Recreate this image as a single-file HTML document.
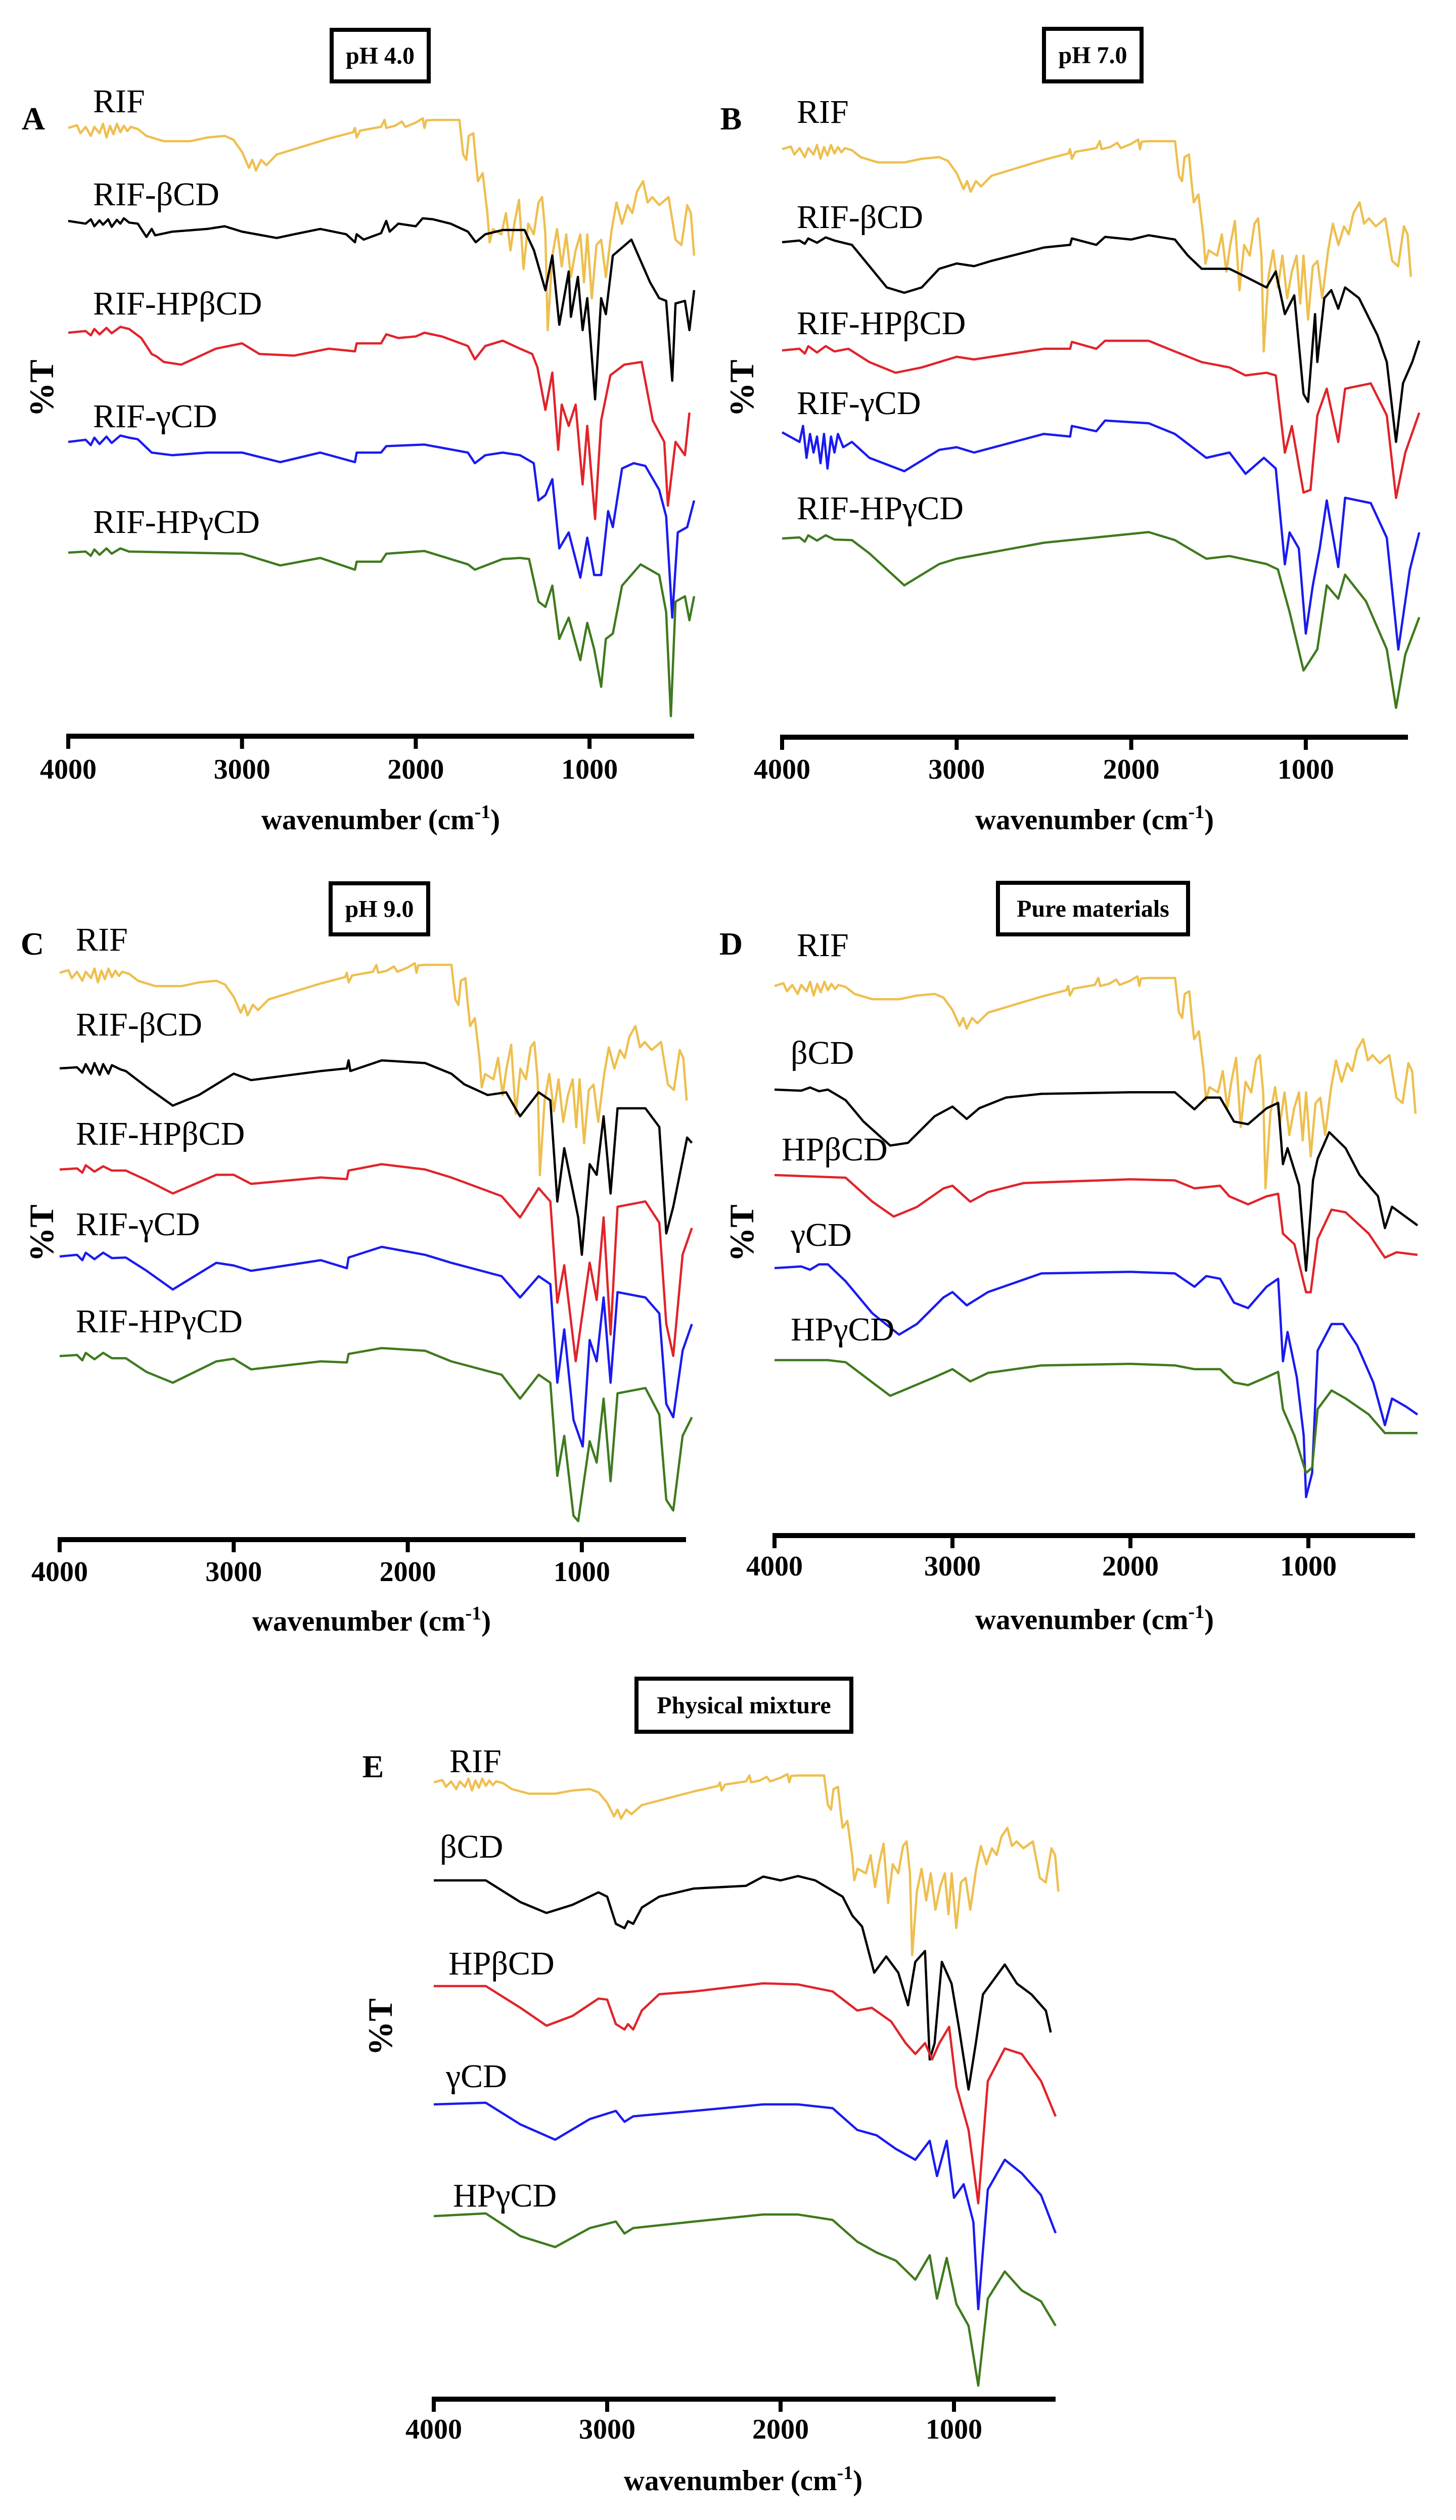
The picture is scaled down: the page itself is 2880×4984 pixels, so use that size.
<!DOCTYPE html>
<html><head><meta charset="utf-8">
<style>
html,body{margin:0;padding:0;background:#fff;}
svg{display:block;}
text{font-family:"Liberation Serif",serif;fill:#000;}
</style></head>
<body>
<svg id="fig" width="2880" height="4984" viewBox="0 0 2880 4984" xmlns="http://www.w3.org/2000/svg"></svg>
<script>
// ---- Data: [wavenumber cm-1, reading] pairs; reading = vertical position (larger = lower %T)
const rif = [[4000,240],[3950,235],[3930,250],[3900,238],[3870,255],[3850,238],[3820,250],[3800,232],[3780,258],[3760,236],[3740,252],[3720,232],[3700,248],[3680,236],[3660,246],[3640,238],[3600,242],[3550,255],[3450,265],[3300,265],[3200,258],[3100,255],[3050,262],[3000,285],[2960,315],[2940,300],[2920,320],[2890,300],[2860,310],[2800,290],[2700,280],[2500,260],[2360,248],[2350,240],[2340,258],[2320,245],[2200,238],[2180,225],[2170,240],[2120,236],[2080,228],[2060,238],[2000,230],[1960,222],[1950,240],[1940,226],[1900,225],[1760,225],[1749,225],[1727,290],[1709,300],[1695,255],[1669,250],[1655,300],[1642,340],[1615,325],[1588,400],[1575,455],[1556,430],[1508,440],[1481,400],[1455,470],[1433,420],[1406,375],[1380,505],[1353,420],[1321,440],[1294,380],[1273,370],[1254,440],[1241,620],[1214,480],[1187,430],[1160,500],[1134,440],[1107,520],[1080,470],[1053,440],[1032,530],[1013,440],[987,560],[960,460],[933,450],[906,520],[872,430],[845,380],[813,420],[781,385],[754,400],[727,360],[692,340],[666,380],[639,370],[599,385],[545,370],[505,450],[471,460],[438,385],[417,400],[398,480]];

const aBeta = [[4000,415],[3900,420],[3870,412],[3850,425],[3820,414],[3800,422],[3770,412],[3750,426],[3720,413],[3700,420],[3680,410],[3650,418],[3600,420],[3550,445],[3520,430],[3500,442],[3400,435],[3200,430],[3100,425],[3000,435],[2800,447],[2700,440],[2550,430],[2400,440],[2350,455],[2340,440],[2300,450],[2200,438],[2170,415],[2150,435],[2100,420],[2000,425],[1960,410],[1900,412],[1800,420],[1700,435],[1655,455],[1600,440],[1500,432],[1374,432],[1320,470],[1254,545],[1214,480],[1174,610],[1120,510],[1107,595],[1067,520],[1040,620],[1013,560],[968,750],[933,560],[906,590],[866,480],[759,450],[652,530],[599,560],[559,565],[524,715],[505,570],[451,565],[425,620],[398,545]];
const aHPBeta = [[4000,625],[3900,622],[3870,630],[3850,618],[3820,628],[3780,616],[3750,626],[3700,614],[3650,618],[3580,635],[3520,665],[3490,670],[3450,680],[3350,685],[3150,655],[3000,645],[2900,665],[2700,668],[2500,655],[2350,660],[2340,645],[2200,645],[2170,628],[2100,635],[2000,632],[1950,625],[1850,632],[1700,650],[1660,675],[1600,650],[1500,640],[1400,655],[1330,665],[1300,690],[1254,770],[1214,700],[1180,845],[1160,760],[1120,800],[1080,760],[1040,910],[1013,800],[968,975],[933,790],[880,705],[800,685],[700,680],[636,790],[570,830],[549,950],[505,830],[451,855],[425,775]];
const aGamma = [[4000,830],[3900,826],[3870,836],[3850,822],[3820,834],[3780,820],[3750,832],[3700,818],[3650,822],[3600,825],[3520,850],[3400,855],[3200,850],[3000,850],[2780,868],[2550,850],[2350,868],[2340,850],[2200,850],[2170,838],[1950,835],[1700,850],[1660,870],[1600,855],[1500,850],[1400,855],[1321,870],[1294,940],[1254,930],[1214,900],[1174,1030],[1120,1000],[1053,1085],[1013,1010],[973,1080],[933,1080],[893,960],[866,990],[813,880],[746,870],[679,875],[599,920],[559,970],[524,1160],[492,1000],[438,990],[398,940]];
const aHPGamma = [[4000,1038],[3900,1036],[3870,1044],[3850,1032],[3820,1042],[3780,1030],[3750,1040],[3700,1030],[3650,1036],[3000,1040],[2780,1062],[2550,1048],[2350,1070],[2340,1055],[2200,1055],[2170,1040],[1950,1035],[1700,1060],[1660,1070],[1500,1050],[1400,1048],[1348,1050],[1294,1130],[1254,1140],[1214,1100],[1174,1200],[1120,1160],[1053,1240],[1013,1170],[973,1220],[933,1290],[906,1200],[866,1190],[813,1100],[706,1060],[599,1080],[559,1150],[532,1345],[505,1130],[451,1120],[425,1165],[398,1120]];

const bBeta = [[4000,455],[3900,452],[3870,458],[3850,448],[3800,456],[3750,446],[3700,452],[3600,460],[3500,500],[3400,540],[3300,550],[3200,540],[3100,505],[3000,495],[2900,500],[2800,490],[2500,465],[2350,460],[2340,448],[2200,460],[2150,445],[2000,450],[1900,442],[1750,450],[1676,480],[1596,505],[1437,505],[1345,520],[1225,540],[1172,510],[1120,590],[1066,555],[1013,740],[987,755],[947,590],[934,680],[894,560],[854,545],[814,580],[775,540],[695,560],[589,630],[536,680],[483,830],[443,720],[390,680],[350,640]];
const bHPBeta = [[4000,658],[3900,655],[3870,664],[3850,650],[3800,662],[3750,650],[3700,660],[3620,655],[3500,680],[3350,700],[3200,690],[3000,670],[2900,675],[2500,655],[2350,655],[2340,642],[2200,655],[2150,640],[1900,640],[1750,660],[1596,680],[1437,690],[1345,705],[1225,700],[1172,705],[1120,850],[1080,800],[1013,925],[973,920],[934,780],[880,730],[814,830],[775,730],[628,720],[536,780],[483,935],[430,850],[350,775]];
const bGamma = [[4000,812],[3900,830],[3880,800],[3860,860],[3840,815],[3820,850],[3800,820],[3780,870],[3760,815],[3740,880],[3720,820],[3700,850],[3680,815],[3650,840],[3600,830],[3500,860],[3300,885],[3100,845],[3000,840],[2900,850],[2500,815],[2350,820],[2340,800],[2200,810],[2150,790],[1900,795],[1750,815],[1570,860],[1437,850],[1345,890],[1240,860],[1172,880],[1120,1060],[1093,1000],[1040,1030],[1000,1190],[960,1100],[920,1030],[880,940],[814,1065],[775,935],[628,945],[536,1010],[470,1220],[404,1070],[350,1000]];
const bHPGamma = [[4000,1012],[3900,1010],[3870,1018],[3850,1006],[3800,1016],[3750,1006],[3700,1014],[3600,1015],[3500,1040],[3300,1100],[3100,1060],[3000,1050],[2500,1020],[2200,1010],[1900,1000],[1750,1015],[1570,1050],[1437,1045],[1225,1060],[1160,1070],[1093,1150],[1013,1260],[973,1240],[934,1220],[880,1100],[814,1125],[775,1080],[655,1130],[536,1220],[483,1330],[430,1230],[350,1160]];

const cBeta = [[4000,440],[3900,438],[3870,448],[3850,432],[3820,450],[3800,430],[3770,452],[3750,432],[3720,450],[3700,434],[3650,442],[3620,445],[3500,475],[3350,510],[3200,490],[3000,450],[2900,462],[2500,445],[2350,440],[2340,425],[2330,445],[2150,425],[1900,430],[1750,450],[1675,470],[1541,490],[1435,485],[1355,530],[1248,485],[1181,500],[1141,690],[1101,590],[1021,720],[1000,790],[955,620],[915,640],[875,530],[835,675],[795,515],[635,515],[555,550],[515,750],[475,700],[395,570],[368,580]];
const cHPBeta = [[4000,630],[3900,628],[3870,636],[3850,622],[3800,634],[3750,624],[3700,632],[3620,632],[3500,650],[3350,675],[3100,640],[3000,640],[2900,657],[2500,645],[2350,648],[2340,632],[2150,620],[1900,630],[1750,645],[1461,680],[1355,720],[1248,665],[1181,690],[1141,880],[1101,810],[1035,990],[955,805],[915,875],[875,720],[835,940],[795,700],[635,690],[555,730],[515,920],[475,980],[421,790],[368,740]];
const cGamma = [[4000,793],[3900,790],[3870,800],[3850,786],[3800,798],[3750,786],[3700,796],[3620,795],[3500,820],[3350,855],[3100,805],[3000,810],[2900,820],[2500,800],[2350,815],[2340,795],[2150,775],[1900,790],[1750,805],[1461,830],[1355,870],[1248,830],[1181,845],[1141,1030],[1101,930],[1048,1100],[995,1150],[955,950],[915,990],[875,870],[835,1030],[795,860],[635,870],[555,900],[515,1070],[475,1095],[421,970],[368,920]];
const cHPGamma = [[4000,980],[3900,978],[3870,988],[3850,974],[3800,986],[3750,974],[3700,984],[3620,984],[3500,1010],[3350,1030],[3100,990],[3000,985],[2900,1005],[2500,990],[2350,992],[2340,976],[2150,965],[1900,970],[1750,990],[1461,1015],[1355,1060],[1248,1015],[1181,1030],[1141,1205],[1101,1130],[1048,1280],[1021,1290],[955,1140],[915,1180],[875,1060],[835,1215],[795,1050],[635,1040],[555,1090],[515,1250],[475,1270],[421,1130],[368,1095]];

const dBeta = [[4000,480],[3850,482],[3800,476],[3750,483],[3700,480],[3600,500],[3500,540],[3350,585],[3250,580],[3100,530],[3000,512],[2920,535],[2850,515],[2700,495],[2500,488],[2000,485],[1750,485],[1640,517],[1574,495],[1496,495],[1418,540],[1339,545],[1235,515],[1170,505],[1143,620],[1117,590],[1052,660],[1013,820],[974,650],[948,610],[883,560],[791,590],[713,640],[609,680],[570,740],[530,700],[387,735]];
const dHPBeta = [[4000,640],[3600,645],[3450,690],[3330,718],[3200,700],[3050,665],[3000,660],[2900,690],[2800,672],[2600,655],[2000,648],[1750,650],[1640,665],[1496,660],[1444,680],[1339,695],[1235,680],[1170,675],[1143,750],[1078,770],[1013,860],[987,860],[948,760],[870,705],[791,710],[661,750],[570,795],[504,785],[387,790]];
const dGamma = [[4000,815],[3850,812],[3800,818],[3750,808],[3700,808],[3600,840],[3450,900],[3300,940],[3200,920],[3050,870],[3000,860],[2920,885],[2800,860],[2500,825],[2000,822],[1750,825],[1640,850],[1574,830],[1496,835],[1418,880],[1339,890],[1235,850],[1170,835],[1143,990],[1117,935],[1065,1020],[1026,1130],[1013,1245],[979,1200],[948,970],[870,920],[805,920],[726,960],[635,1030],[570,1110],[530,1060],[452,1075],[387,1090]];
const dHPGamma = [[4000,988],[3700,988],[3600,992],[3450,1030],[3350,1055],[3100,1020],[3000,1005],[2900,1028],[2800,1012],[2500,998],[2000,995],[1750,998],[1640,1005],[1496,1005],[1418,1030],[1339,1035],[1235,1020],[1170,1010],[1143,1080],[1078,1130],[1013,1200],[979,1190],[948,1080],[870,1045],[791,1060],[661,1090],[570,1125],[387,1125]];

const eBeta = [[4000,390],[3700,390],[3650,400],[3500,430],[3350,450],[3200,435],[3050,412],[3000,420],[2950,470],[2900,478],[2880,465],[2850,470],[2800,440],[2700,420],[2500,405],[2200,400],[2100,383],[2000,390],[1900,382],[1800,390],[1642,420],[1586,455],[1530,475],[1460,560],[1391,530],[1321,560],[1265,620],[1223,540],[1167,520],[1140,720],[1112,690],[1070,540],[1014,580],[972,660],[916,775],[874,690],[833,600],[707,545],[637,580],[553,600],[470,630],[442,670]];
const eHPBeta = [[4000,585],[3700,585],[3650,595],[3500,625],[3350,658],[3200,640],[3050,608],[3000,610],[2950,655],[2900,665],[2880,655],[2850,665],[2800,630],[2700,600],[2500,595],[2100,580],[1900,582],[1700,595],[1558,630],[1474,625],[1363,650],[1279,690],[1223,710],[1167,690],[1126,720],[1084,690],[1028,660],[986,770],[916,850],[860,985],[805,760],[707,700],[609,710],[498,760],[414,825]];
const eGamma = [[4000,803],[3700,800],[3500,840],[3300,868],[3100,830],[2950,815],[2900,835],[2850,825],[2500,815],[2100,803],[1900,803],[1700,810],[1558,850],[1446,860],[1335,885],[1223,905],[1140,870],[1098,935],[1042,870],[1000,975],[944,950],[888,1020],[860,1180],[805,960],[707,905],[609,930],[498,970],[414,1040]];
const eHPGamma = [[4000,1008],[3700,1003],[3500,1045],[3300,1065],[3100,1030],[2950,1018],[2900,1040],[2850,1030],[2500,1018],[2100,1005],[1900,1005],[1700,1015],[1558,1055],[1446,1075],[1335,1090],[1223,1125],[1140,1080],[1098,1160],[1042,1085],[986,1170],[916,1210],[860,1320],[805,1160],[707,1110],[609,1145],[498,1165],[414,1210]];

const tickValues = [4000, 3000, 2000, 1000];
const tickLabels = ["4000", "3000", "2000", "1000"];
const seriesColors = ["#eebf4f", "#000000", "#e0242a", "#1a1af0", "#3f7a1e"];
const labelsComplex = ["RIF", "RIF-βCD", "RIF-HPβCD", "RIF-γCD", "RIF-HPγCD"];
const labelsPure = ["RIF", "βCD", "HPβCD", "γCD", "HPγCD"];

// ---- Layout
const panels = [
 {id:"a", letter:"A", title:"pH 4.0", x4000:135, perK:343.7, axisY:1456, axisEnd:1373, k:1.053, base:[253,437,658,874,1093], lx:[184,184,184,184,184], ly:[200,384,600,823,1032], box:[652,55,200,110], tickY:1521, titleX:753, titleY:1621, letterXY:[66,234], pctXY:[83,768], labels:labelsComplex, series:[rif,aBeta,aHPBeta,aGamma,aHPGamma]},
 {id:"b", letter:"B", title:"pH 7.0", x4000:1547, perK:345.3, axisY:1458, axisEnd:2785, k:1.053, base:[295,479,693,855,1065], lx:[1576,1576,1576,1576,1576], ly:[221,429,639,797,1005], box:[2061,53,201,112], tickY:1521, titleX:2165, titleY:1621, letterXY:[1446,234], pctXY:[1468,768], labels:labelsComplex, series:[rif,bBeta,bHPBeta,bGamma,bHPGamma]},
 {id:"c", letter:"C", title:"pH 9.0", x4000:118, perK:344.3, axisY:3045, axisEnd:1357, k:1.053, base:[1924,2113,2313,2485,2682], lx:[150,150,150,150,150], ly:[1858,2026,2242,2421,2613], box:[650,1743,201,109], tickY:3108, titleX:735, titleY:3206, letterXY:[64,1866], pctXY:[83,2439], labels:labelsComplex, series:[rif,cBeta,cHPBeta,cGamma,cHPGamma]},
 {id:"d", letter:"D", title:"Pure materials", x4000:1532, perK:352, axisY:3037, axisEnd:2799, k:1.053, base:[1950,2155,2324,2508,2690], lx:[1576,1564,1546,1564,1564], ly:[1869,2082,2273,2442,2629], box:[1970,1742,384,110], tickY:3097, titleX:2165, titleY:3203, letterXY:[1446,1866], pctXY:[1468,2439], labels:labelsPure, series:[rif,dBeta,dHPBeta,dGamma,dHPGamma]},
 {id:"e", letter:"E", title:"Physical mixture", x4000:858, perK:343, axisY:4745, axisEnd:2088, k:1.074, rifK:0.9, base:[3525,3719,3928,4162,4383], lx:[889,870,887,882,896], ly:[3483,3652,3883,4106,4342], box:[1255,3316,433,113], tickY:4804, titleX:1470, titleY:4906, letterXY:[738,3493], pctXY:[753,4009], labels:labelsPure, series:[rif,eBeta,eHPBeta,eGamma,eHPGamma]}
];

const NS = "http://www.w3.org/2000/svg";
const svg = document.getElementById("fig");
function mk(tag, parent){ const e=document.createElementNS(NS,tag); parent.appendChild(e); return e; }

panels.forEach(p=>{
  const g = mk("g", svg);
  
  
  const xs = wn => p.x4000 + (4000 - wn) * p.perK / 1000;

  const bx = mk("rect", g);
  
  
  bx.setAttribute("x", p.box[0]+4); bx.setAttribute("y", p.box[1]+4);
  bx.setAttribute("width", p.box[2]-8); bx.setAttribute("height", p.box[3]-8);
  bx.setAttribute("fill","none"); bx.setAttribute("stroke","#000"); bx.setAttribute("stroke-width","8");
  const bt = mk("text", g);
  
  
  bt.setAttribute("x", p.box[0]+p.box[2]/2); bt.setAttribute("y", p.box[1]+p.box[3]/2+16);
  bt.setAttribute("text-anchor","middle"); bt.setAttribute("font-size","48"); bt.setAttribute("font-weight","bold");
  bt.textContent = p.title;

  const lt = mk("text", g);
  
  
  lt.setAttribute("x", p.letterXY[0]); lt.setAttribute("y", p.letterXY[1]+22);
  lt.setAttribute("text-anchor","middle"); lt.setAttribute("font-size","64"); lt.setAttribute("font-weight","bold");
  lt.textContent = p.letter;

  const yt = mk("text", g);
  
  
  yt.setAttribute("transform", "translate(" + (p.pctXY[0]+22) + "," + p.pctXY[1] + ") rotate(-90)");
  yt.setAttribute("text-anchor","middle"); yt.setAttribute("font-size","68"); yt.setAttribute("font-weight","bold");
  yt.textContent = "%T";

  p.series.forEach((s, i)=>{
    const kk = (i===0 && p.rifK) ? p.rifK : p.k;
    const v0 = s[0][1];
    let d = "";
    s.forEach((pt, j)=>{
      const x = xs(pt[0]);
      const y = p.base[i] + (pt[1]-v0)*kk;
      d += (j? "L":"M") + x.toFixed(1) + "," + y.toFixed(1);
    });
    const path = mk("path", g);
    
    
    path.setAttribute("d", d);
    path.setAttribute("fill","none"); path.setAttribute("stroke", seriesColors[i]);
    path.setAttribute("stroke-width","4.5"); path.setAttribute("stroke-linejoin","round");
    const lab = mk("text", g);
    
    
    lab.setAttribute("x", p.lx[i]); lab.setAttribute("y", p.ly[i]+22);
    lab.setAttribute("font-size","66");
    lab.textContent = p.labels[i];
  });

  const ax = mk("line", g);
  
  
  ax.setAttribute("x1", p.x4000-4); ax.setAttribute("x2", p.axisEnd);
  ax.setAttribute("y1", p.axisY); ax.setAttribute("y2", p.axisY);
  ax.setAttribute("stroke","#000"); ax.setAttribute("stroke-width","10");
  tickValues.forEach((tv, i)=>{
    const tk = mk("line", g);
    
    
    tk.setAttribute("x1", xs(tv)); tk.setAttribute("x2", xs(tv));
    tk.setAttribute("y1", p.axisY); tk.setAttribute("y2", p.axisY+25);
    tk.setAttribute("stroke","#000"); tk.setAttribute("stroke-width","8");
    const tl = mk("text", g);
    
    
    tl.setAttribute("x", xs(tv)); tl.setAttribute("y", p.tickY+19);
    tl.setAttribute("text-anchor","middle"); tl.setAttribute("font-size","56"); tl.setAttribute("font-weight","bold");
    tl.textContent = tickLabels[i];
  });
  const xt = mk("text", g);
  
  
  xt.setAttribute("x", p.titleX); xt.setAttribute("y", p.titleY+19);
  xt.setAttribute("text-anchor","middle"); xt.setAttribute("font-size","57"); xt.setAttribute("font-weight","bold");
  const t1 = mk("tspan", xt); t1.textContent = "wavenumber (cm";
  const t2 = mk("tspan", xt); t2.setAttribute("dy","-22"); t2.setAttribute("font-size","38"); t2.textContent = "-1";
  const t3 = mk("tspan", xt); t3.setAttribute("dy","22"); t3.textContent = ")";
});
</script>
</body></html>
